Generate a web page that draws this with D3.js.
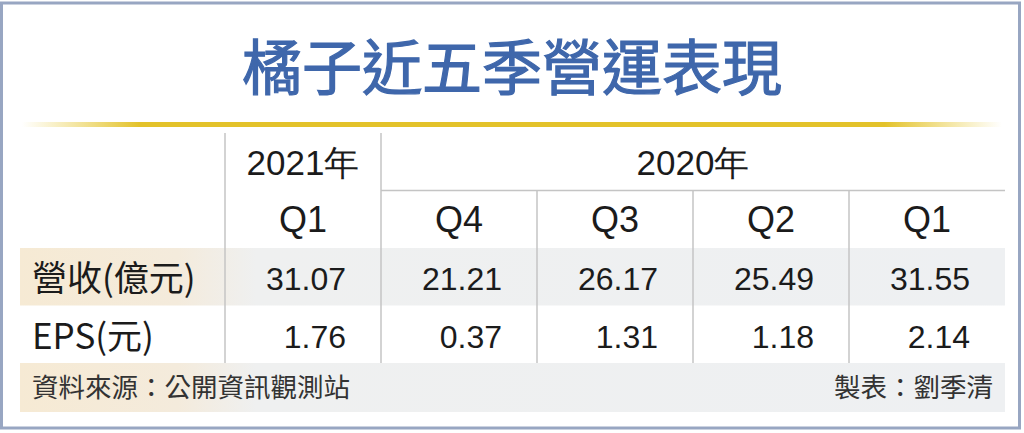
<!DOCTYPE html>
<html>
<head>
<meta charset="utf-8">
<script src="https://cdn.jsdelivr.net/npm/d3@7"></script>
<style>
  html, body { margin: 0; padding: 0; background: #fff; }
  svg { display: block; }
  .cjk { font-family: "Noto Sans CJK TC", "Noto Sans CJK SC", sans-serif; }
  .num { font-family: "Liberation Sans", Arial, sans-serif; }
</style>
</head>
<body>
<div id="chart"></div>
<script>
'use strict';
// Table data
const title = '橘子近五季營運表現'
const years = [
    { label: '2021年', from: 0, to: 0 },
    { label: '2020年', from: 1, to: 4 }
]
const quarters = ['Q1', 'Q4', 'Q3', 'Q2', 'Q1']
const rowLabels = ['營收(億元)', 'EPS(元)']
const revenue = [31.07, 21.21, 26.17, 25.49, 31.55]
const eps = [1.76, 0.37, 1.31, 1.18, 2.14]
const source = '資料來源：公開資訊觀測站'
const maker = '製表：劉季清'

const W = 1024
const H = 433
const textColor = '#1b1b1b'
const lineColor = '#c4c4c4'

const x = d3.scaleBand().domain(d3.range(quarters.length)).range([225, 1005])
const y = d3.scaleBand().domain(['year', 'quarter', 'revenue', 'eps']).range([133, 363])
const fmt = d3.format('.2f')

const svg = d3.select('#chart')
    .append('svg')
    .attr('width', W)
    .attr('height', H)

const defs = svg.append('defs')

// Gold rule gradient, fading at both ends
const gold = defs.append('linearGradient').attr('id', 'gold')
gold.append('stop').attr('offset', '0%').attr('stop-color', '#e8cb3a').attr('stop-opacity', 0)
gold.append('stop').attr('offset', '12%').attr('stop-color', '#e3c22a').attr('stop-opacity', 1)
gold.append('stop').attr('offset', '88%').attr('stop-color', '#e3c22a').attr('stop-opacity', 1)
gold.append('stop').attr('offset', '100%').attr('stop-color', '#e8cb3a').attr('stop-opacity', 0)

// Shaded row band: beige under the label, grey under the numbers
const band = defs.append('linearGradient').attr('id', 'band')
band.append('stop').attr('offset', '0%').attr('stop-color', '#f6ead4')
band.append('stop').attr('offset', '16%').attr('stop-color', '#f4ebdc')
band.append('stop').attr('offset', '24%').attr('stop-color', '#eff0f0')
band.append('stop').attr('offset', '100%').attr('stop-color', '#eef0f2')

// Outer frame
svg.append('rect')
    .attr('x', 1.5)
    .attr('y', 3)
    .attr('width', 1018)
    .attr('height', 425)
    .attr('fill', '#fff')
    .attr('stroke', '#98a6c2')
    .attr('stroke-width', 3)

// Title (regular weight with a thin outline to read as medium)
svg.append('text')
    .attr('class', 'cjk')
    .attr('x', W / 2)
    .attr('y', 90)
    .attr('text-anchor', 'middle')
    .attr('font-size', 60)
    .attr('font-weight', 400)
    .attr('fill', '#3f67ab')
    .attr('stroke', '#3f67ab')
    .attr('stroke-width', 1.2)
    .text(title)

// Gold rule
svg.append('rect')
    .attr('x', 22)
    .attr('y', 122)
    .attr('width', 980)
    .attr('height', 5)
    .attr('fill', 'url(#gold)')

// Shaded bands (revenue row and footer)
svg.append('rect')
    .attr('x', 20)
    .attr('y', y('revenue'))
    .attr('width', 985)
    .attr('height', y.bandwidth())
    .attr('fill', 'url(#band)')
svg.append('rect')
    .attr('x', 20)
    .attr('y', 363)
    .attr('width', 985)
    .attr('height', 49)
    .attr('fill', 'url(#band)')

// Vertical column lines
svg.append('g')
    .selectAll('line')
    .data(d3.range(quarters.length))
    .join('line')
    .attr('x1', d => x(d))
    .attr('x2', d => x(d))
    .attr('y1', d => d === 0 || d === 1 ? y('year') : y('quarter'))
    .attr('y2', y('eps') + y.bandwidth())
    .attr('stroke', lineColor)
    .attr('stroke-width', 1.5)

// Line under the 2020 year header
svg.append('line')
    .attr('x1', x(years[1].from))
    .attr('x2', x(years[1].to) + x.bandwidth())
    .attr('y1', y('quarter'))
    .attr('y2', y('quarter'))
    .attr('stroke', lineColor)
    .attr('stroke-width', 1.5)

// Year headers
svg.append('g')
    .selectAll('text')
    .data(years)
    .join('text')
    .attr('class', 'num')
    .attr('x', d => (x(d.from) + x(d.to) + x.bandwidth()) / 2)
    .attr('y', y('year') + 42)
    .attr('text-anchor', 'middle')
    .attr('font-size', 35)
    .attr('fill', textColor)
    .text(d => d.label)

// Quarter headers
svg.append('g')
    .selectAll('text')
    .data(quarters)
    .join('text')
    .attr('class', 'num')
    .attr('x', (d, i) => x(i) + x.bandwidth() / 2)
    .attr('y', y('quarter') + 41)
    .attr('text-anchor', 'middle')
    .attr('font-size', 36)
    .attr('fill', textColor)
    .text(d => d)

// Row labels
svg.append('g')
    .selectAll('text')
    .data(rowLabels)
    .join('text')
    .attr('class', 'cjk')
    .attr('x', 32)
    .attr('y', (d, i) => y(i === 0 ? 'revenue' : 'eps') + 43)
    .attr('font-size', 35)
    .attr('fill', textColor)
    .text(d => d)

// Values
const rows = [{ key: 'revenue', values: revenue }, { key: 'eps', values: eps }]
rows.forEach(r => {
    svg.append('g')
        .selectAll('text')
        .data(r.values)
        .join('text')
        .attr('class', 'num')
        .attr('x', (d, i) => x(i) + x.bandwidth() - 35)
        .attr('y', y(r.key) + 42)
        .attr('text-anchor', 'end')
        .attr('font-size', 32)
        .attr('fill', textColor)
        .text(d => fmt(d))
})

// Footer
svg.append('text')
    .attr('class', 'cjk')
    .attr('x', 32)
    .attr('y', 397)
    .attr('font-size', 26.5)
    .attr('fill', '#333')
    .text(source)
svg.append('text')
    .attr('class', 'cjk')
    .attr('x', 993)
    .attr('y', 397)
    .attr('text-anchor', 'end')
    .attr('font-size', 26.5)
    .attr('fill', '#333')
    .text(maker)
</script>
</body>
</html>
